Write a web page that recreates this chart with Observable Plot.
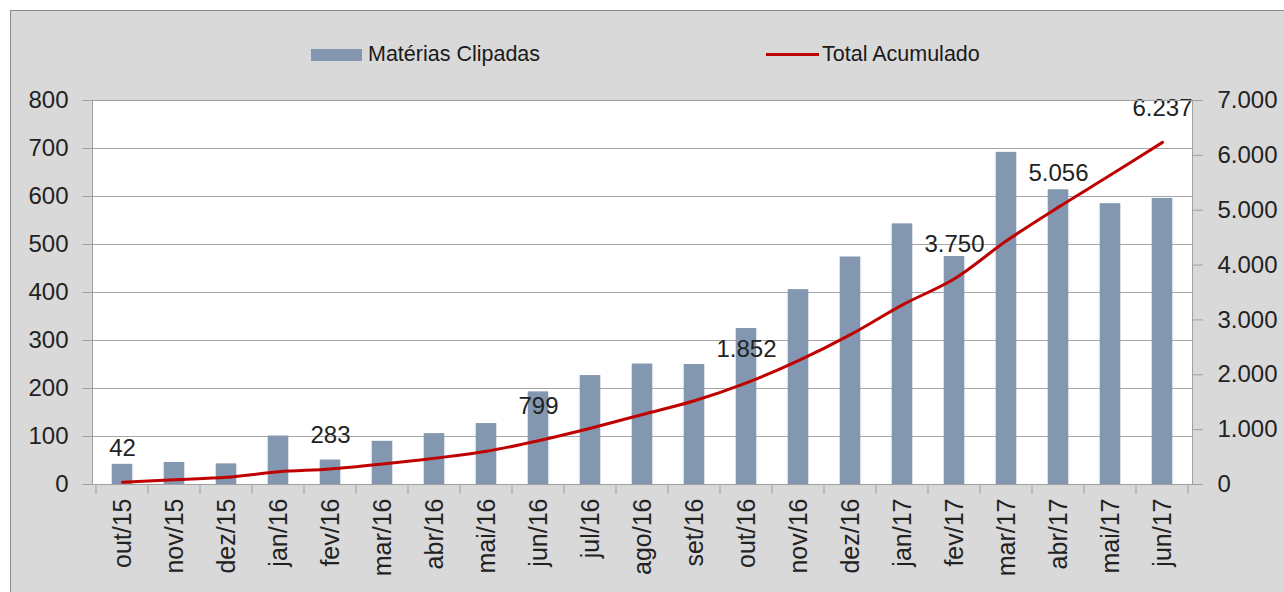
<!DOCTYPE html>
<html>
<head>
<meta charset="utf-8">
<script src="https://cdn.jsdelivr.net/npm/d3@7"></script>
<script src="https://cdn.jsdelivr.net/npm/@observablehq/plot@0.6"></script>
<style>
  body { margin: 0; background: #ffffff; font-family: "Liberation Sans", Arial, sans-serif; }
  #frame { position: absolute; left: 10px; top: 10px; width: 1290px; height: 600px; box-sizing: border-box; border: 1px solid #8c8c8c; background: #d9d9d9; }
  #chart { position: absolute; left: 0; top: 0; width: 1284px; }
  #legend { position: relative; height: 80px; }
  #legend .sw { position: absolute; }
  #legend .lt { position: absolute; top: 42px; font-size: 21.5px; line-height: 24px; color: #1a1a1a; white-space: nowrap; }
  svg { display: block; }
</style>
</head>
<body>
<div id="frame"></div>
<div id="chart">
  <div id="legend">
    <span class="sw" style="left:311px;top:49px;width:51px;height:12px;background:#8497b0"></span>
    <span class="lt" style="left:368px">Matérias Clipadas</span>
    <span class="sw" style="left:766px;top:53px;width:53px;height:3px;background:#c00000"></span>
    <span class="lt" style="left:822px">Total Acumulado</span>
  </div>
</div>
<script>
const months = ["out/15","nov/15","dez/15","jan/16","fev/16","mar/16","abr/16","mai/16","jun/16","jul/16","ago/16","set/16","out/16","nov/16","dez/16","jan/17","fev/17","mar/17","abr/17","mai/17","jun/17"];
const clipped = [42, 46, 43, 101, 51, 90, 106, 127, 193, 227, 251, 250, 325, 406, 474, 543, 475, 692, 614, 585, 596];
const totals = [42, 88, 131, 232, 283, 373, 479, 606, 799, 1026, 1277, 1527, 1852, 2258, 2732, 3275, 3750, 4442, 5056, 5641, 6237];
const labeledMonths = ["out/15","fev/16","jun/16","out/16","fev/17","abr/17","jun/17"];
const leftTicks = [0, 100, 200, 300, 400, 500, 600, 700, 800];
const rightTicks = [0, 1000, 2000, 3000, 4000, 5000, 6000, 7000];
const leftMax = 800, rightMax = 7000;

const ptBR = d3.formatLocale({decimal: ",", thousands: ".", grouping: [3], currency: ["R$", ""]});
const fmt = ptBR.format(",d");
const toLeft = v => v * leftMax / rightMax;

const data = months.map((m, i) => ({month: m, clipped: clipped[i], total: totals[i]}));
const labeled = data.filter(d => labeledMonths.includes(d.month));

const axisColor = "#a0a0a0";
const textColor = "#222";

function xBoundaryTicks(index, scales, values, dimensions) {
  const {width, height, marginLeft, marginRight, marginBottom} = dimensions;
  const x = scales.x;
  let bw = x && (typeof x.bandwidth === "function" ? x.bandwidth() : x.bandwidth);
  let edges;
  if (x && typeof x === "function" && bw) {
    edges = months.map(m => x(m)).concat([x(months[months.length - 1]) + bw]);
  } else {
    const step = (width - marginLeft - marginRight) / months.length;
    edges = d3.range(months.length + 1).map(i => marginLeft + i * step);
  }
  const y0 = height - marginBottom;
  const g = d3.create("svg:g").attr("stroke", axisColor).attr("stroke-width", 1);
  g.selectAll("line").data(edges).join("line")
    .attr("x1", d => d).attr("x2", d => d)
    .attr("y1", y0).attr("y2", y0 + 10);
  return g.node();
}

const chart = Plot.plot({
  width: 1284,
  height: 512,
  marginLeft: 92,
  marginRight: 92,
  marginTop: 20,
  marginBottom: 108,
  style: {background: "transparent", fontFamily: "'Liberation Sans', Arial, sans-serif", overflow: "visible"},
  x: {domain: months, padding: 0, axis: null},
  y: {domain: [0, leftMax], axis: null},
  marks: [
    Plot.frame({fill: "white", stroke: null}),
    Plot.gridY(leftTicks, {stroke: "#a6a6a6", strokeOpacity: 1, strokeWidth: 1}),
    Plot.barY(data, {x: "month", y: "clipped", fill: "#8497b0", insetLeft: 15.7, insetRight: 15.7}),
    Plot.line(data, {x: "month", y: d => toLeft(d.total), stroke: "#c00000", strokeWidth: 3, curve: "catmull-rom"}),
    Plot.text(labeled, {x: "month", y: d => toLeft(d.total), text: d => fmt(d.total), dy: -34, fontSize: 24, fill: textColor}),
    Plot.frame({stroke: axisColor, strokeWidth: 1}),
    Plot.axisY(leftTicks, {anchor: "left", label: null, tickSize: 10, tickPadding: 14, fontSize: 24, stroke: axisColor, fill: textColor, tickFormat: d => fmt(d)}),
    Plot.axisY(rightTicks, {anchor: "right", label: null, y: d => toLeft(d), tickSize: 10, tickPadding: 15, fontSize: 24, stroke: axisColor, fill: textColor, tickFormat: d => fmt(d)}),
    Plot.axisX({anchor: "bottom", label: null, tickSize: 0, tickRotate: -90, tickPadding: 14, fontSize: 25, fill: textColor}),
    xBoundaryTicks
  ]
});

document.getElementById("chart").appendChild(chart);
</script>
</body>
</html>
